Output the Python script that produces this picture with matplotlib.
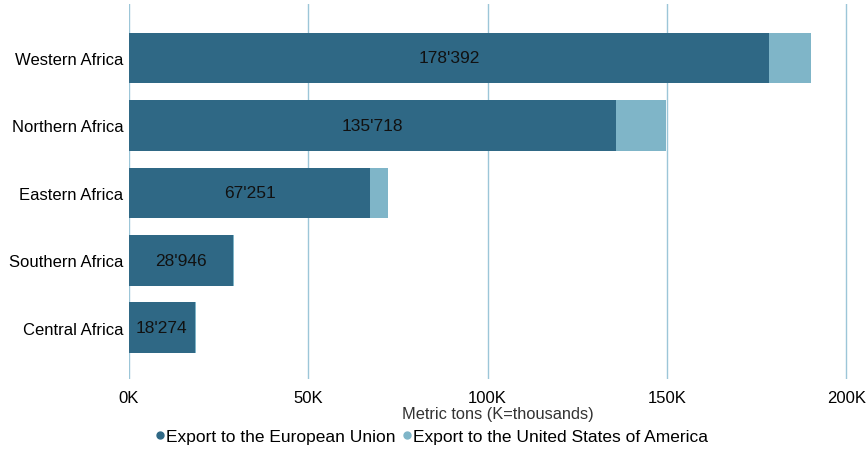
import numpy as np
import matplotlib.pyplot as plt
from matplotlib.lines import Line2D

regions = ["Western Africa", "Northern Africa", "Eastern Africa", "Southern Africa", "Central Africa"]
eu = [178392, 135718, 67251, 28946, 18274]
usa = [11700, 14000, 4900, 400, 300]

dark = "#2f6885"
light = "#7fb5c8"

plt.rcParams['font.family'] = ['Liberation Sans', 'DejaVu Sans']

fig = plt.figure(figsize=(8.67, 4.52), dpi=100)
ax = fig.add_axes([129/867, 1-380/452, (867-129)/867, 375/452])

y = np.arange(len(regions))
ax.barh(y, eu, height=0.75, color=dark, zorder=3)
ax.barh(y, usa, left=eu, height=0.75, color=light, zorder=3)

for yi, v in zip(y, eu):
    ax.text(v/2, yi, "{:,}".format(v).replace(",", "'"), ha='center', va='center',
            fontsize=12.5, color='#111111', zorder=4)

ax.set_xlim(0, 205800)
ax.set_ylim(4.76, -0.8)
ax.set_yticks(y)
ax.set_yticklabels(regions, fontsize=12)
ticks = [0, 50000, 100000, 150000, 200000]
ax.set_xticks(ticks)
ax.set_xticklabels(["%dK" % (t//1000) for t in ticks], fontsize=12)
ax.tick_params(axis='y', length=0, pad=4)
ax.tick_params(axis='x', length=0, pad=8)
ax.grid(axis='x', color='#9cc6d8', linewidth=1, zorder=0)
for s in ax.spines.values():
    s.set_visible(False)
ax.set_xlabel("Metric tons (K=thousands)", fontsize=11.8, color='#333333', labelpad=1)

handles = [Line2D([], [], marker='o', linestyle='', color=dark, markersize=5),
           Line2D([], [], marker='o', linestyle='', color=light, markersize=5)]
fig.legend(handles, ["Export to the European Union", "Export to the United States of America"],
           loc='center', bbox_to_anchor=(0.497, 1-437/452), ncol=2, frameon=False,
           fontsize=12.5, handletextpad=0.0, columnspacing=0.3, handlelength=0.7)

fig.savefig("out.png", dpi=100)
